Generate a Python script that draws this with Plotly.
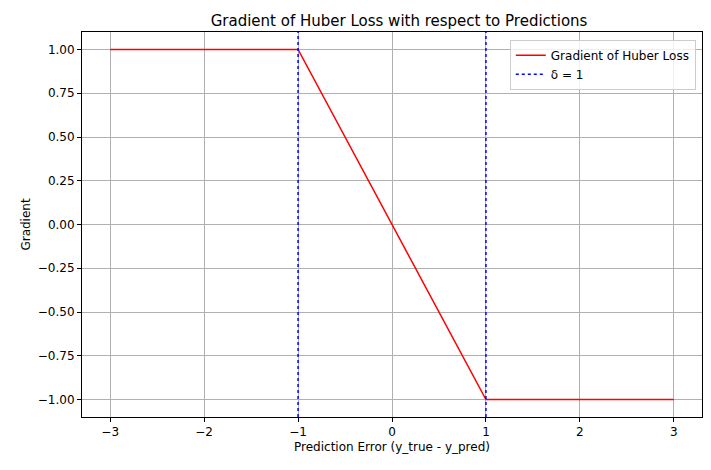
import plotly.graph_objects as go

x_vals = [-3, -1, 1, 3]
grad_vals = [1, 1, -1, -1]
delta_lines = [-1, 1]
x_ticks = [-3, -2, -1, 0, 1, 2, 3]
y_ticks = [-1.0, -0.75, -0.5, -0.25, 0.0, 0.25, 0.5, 0.75, 1.0]

fig = go.Figure()
fig.add_trace(go.Scatter(x=x_vals, y=grad_vals, mode="lines", line=dict(color="red", width=1.5),
                         name="Gradient of Huber Loss"))
for i, d in enumerate(delta_lines):
    fig.add_trace(go.Scatter(x=[d, d], y=[-1.1, 1.1], mode="lines",
                             line=dict(color="blue", width=1.5, dash="dot"),
                             name="δ = 1", showlegend=(i == 0)))

axis_common = dict(showgrid=True, gridcolor="#b0b0b0", gridwidth=1, zeroline=False,
                   showline=True, linecolor="black", mirror=True, ticks="outside",
                   tickcolor="black", ticklen=4, tickfont=dict(size=12, color="black"))
fig.update_xaxes(range=[-3.3, 3.3], tickvals=x_ticks, ticktext=[str(t).replace("-", "−") for t in x_ticks],
                 title=dict(text="Prediction Error (y_true - y_pred)", font=dict(size=12), standoff=4), **axis_common)
fig.update_yaxes(range=[-1.1, 1.1], tickvals=y_ticks, ticktext=[f"{t:.2f}".replace("-", "−") for t in y_ticks],
                 title=dict(text="Gradient", font=dict(size=12), standoff=4), **axis_common)
fig.update_layout(
    width=711, height=470, plot_bgcolor="white", paper_bgcolor="white",
    font=dict(family="DejaVu Sans", color="black"),
    margin=dict(l=74, r=17, t=24, b=61),
    title=dict(text="Gradient of Huber Loss with respect to Predictions", x=0.55, xanchor="center",
               y=0.985, yanchor="top", font=dict(size=15)),
    legend=dict(x=0.99, y=0.98, xanchor="right", yanchor="top", bgcolor="rgba(255,255,255,0.8)",
                bordercolor="#cccccc", borderwidth=1, font=dict(size=12)),
)
fig.write_html("out.html")
